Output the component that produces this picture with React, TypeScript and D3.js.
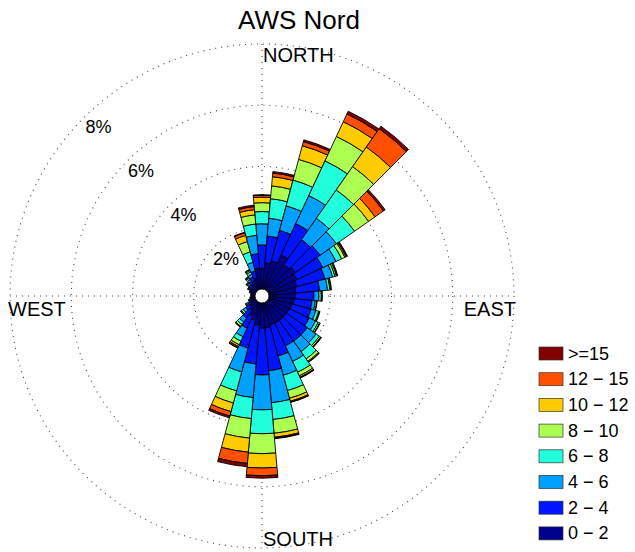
import React from "react";
import * as d3 from "d3";

// direction sectors (degrees from north, clockwise), 10° wide
const directions = [
  0, 10, 20, 30, 40, 50, 60, 70, 80, 90, 100, 110, 120, 130, 140, 150, 160, 170,
  180, 190, 200, 210, 220, 230, 240, 250, 260, 270, 280, 290, 300, 310, 320, 330, 340, 350,
];

// frequency (%) per speed class, one value per direction
const s0_2 = [0.68, 0.86, 0.96, 1.25, 1.02, 1.11, 1.03, 0.95, 0.88, 0.85, 0.82, 0.78, 0.75, 0.75, 0.75, 0.75, 0.75, 0.82, 0.83, 0.73, 0.6, 0.49, 0.36, 0.26, 0.2, 0.15, 0.12, 0.1, 0.1, 0.13, 0.17, 0.22, 0.27, 0.33, 0.39, 0.69];
const s2_4 = [0.76, 0.88, 1.03, 1.13, 1.0, 0.98, 0.93, 0.95, 0.78, 0.62, 0.59, 0.65, 0.72, 0.82, 0.82, 0.82, 1.05, 1.4, 1.52, 1.27, 0.93, 0.44, 0.29, 0.16, 0.08, 0.05, 0.03, 0.02, 0.03, 0.04, 0.06, 0.08, 0.1, 0.13, 0.23, 0.47];
const s4_6 = [0.69, 0.58, 0.83, 1.01, 0.85, 0.65, 0.48, 0.26, 0.26, 0.16, 0.11, 0.16, 0.23, 0.36, 0.42, 0.56, 0.65, 1.05, 1.14, 1.1, 0.81, 0.31, 0.16, 0.1, 0.05, 0.02, 0.01, 0.01, 0.01, 0.02, 0.03, 0.05, 0.07, 0.1, 0.29, 0.6];
const s6_8 = [0.4, 0.64, 0.87, 1.25, 1.13, 0.72, 0.2, 0.08, 0.08, 0.08, 0.05, 0.1, 0.1, 0.13, 0.29, 0.39, 0.52, 0.55, 0.78, 0.69, 0.64, 0.16, 0.1, 0.07, 0.03, 0.01, 0.01, 0, 0, 0.01, 0.02, 0.03, 0.05, 0.08, 0.35, 0.37];
const s8_10 = [0.29, 0.42, 0.7, 0.88, 0.93, 0.56, 0.12, 0.05, 0.03, 0.02, 0.01, 0.03, 0.05, 0.05, 0.1, 0.13, 0.26, 0.45, 0.65, 0.64, 0.41, 0.13, 0.07, 0.03, 0.01, 0, 0, 0, 0, 0, 0.01, 0.02, 0.03, 0.05, 0.35, 0.3];
const s10_12 = [0.18, 0.3, 0.46, 0.53, 0.78, 0.26, 0.04, 0.03, 0.02, 0.01, 0, 0.01, 0.02, 0.02, 0.03, 0.05, 0.1, 0.13, 0.47, 0.46, 0.29, 0.06, 0.02, 0.01, 0, 0, 0, 0, 0, 0, 0, 0.01, 0.02, 0.03, 0.21, 0.17];
const s12_15 = [0.06, 0.12, 0.14, 0.28, 0.73, 0.33, 0.03, 0.01, 0, 0, 0, 0, 0, 0.01, 0.01, 0.02, 0.03, 0.03, 0.25, 0.37, 0.15, 0.04, 0.01, 0, 0, 0, 0, 0, 0, 0, 0, 0, 0.01, 0.01, 0.09, 0.1];
const s15 = [0.02, 0.05, 0.06, 0.1, 0.1, 0.07, 0.02, 0, 0, 0, 0, 0, 0, 0, 0, 0.01, 0.01, 0.02, 0.08, 0.11, 0.06, 0.02, 0, 0, 0, 0, 0, 0, 0, 0, 0, 0, 0, 0, 0.02, 0.05];

const speedLabels = ["0 \u2212 2", "2 \u2212 4", "4 \u2212 6", "6 \u2212 8", "8 \u2212 10", "10 \u2212 12", "12 \u2212 15", ">=15"];
const speedSeries = [s0_2, s2_4, s4_6, s6_8, s8_10, s10_12, s12_15, s15];
const speedColors = ["#00008f", "#0014ff", "#00a0ff", "#22ffdd", "#adff52", "#ffcc00", "#ff5000", "#800000"];

const rings = [2, 4, 6, 8];

const W = 635;
const H = 552;
const cx = 262;
const cy = 296;
const font = "'Liberation Sans', Arial, Helvetica, sans-serif";

const rScale = d3.scaleLinear().domain([0, 8]).range([7, 252]);
const rad = (deg: number) => (deg * Math.PI) / 180;

export default function App() {
  const arc = d3.arc<any>();
  const outer = rScale(8);

  const segments: { d: string; fill: string; key: string }[] = [];
  directions.forEach((dir, i) => {
    let cum = 0;
    speedSeries.forEach((series, b) => {
      const v = series[i];
      if (v <= 0) return;
      const d = arc({
        innerRadius: rScale(cum),
        outerRadius: rScale(cum + v),
        startAngle: rad(dir - 5),
        endAngle: rad(dir + 5),
      }) as string;
      segments.push({ d, fill: speedColors[b], key: `${dir}-${b}` });
      cum += v;
    });
  });

  const labelAngle = rad(-44);

  return (
    <svg width={W} height={H} style={{ position: "absolute", left: 0, top: 0, background: "#fff" }}>
      <text x={299} y={29} textAnchor="middle" fontFamily={font} fontSize={26} fill="#000">
        AWS Nord
      </text>

      {/* grid */}
      <g fill="none" stroke="#444" strokeWidth={1.1} strokeDasharray="1 5">
        {rings.map((t) => (
          <circle key={t} cx={cx} cy={cy} r={rScale(t)} />
        ))}
        <line x1={cx - outer} x2={cx + outer} y1={cy} y2={cy} />
        <line x1={cx} x2={cx} y1={cy - outer} y2={cy + outer} />
      </g>

      {/* bars */}
      <g transform={`translate(${cx},${cy})`} stroke="#000" strokeWidth={0.9} strokeLinejoin="round">
        {segments.map((s) => (
          <path key={s.key} d={s.d} fill={s.fill} />
        ))}
      </g>
      <circle cx={cx} cy={cy} r={rScale(0)} fill="#fff" stroke="#000" strokeWidth={0.9} />

      {/* ring labels */}
      {rings.map((t) => {
        const dist = rScale(t) - 16.5;
        return (
          <text
            key={t}
            x={cx + dist * Math.sin(labelAngle)}
            y={cy - dist * Math.cos(labelAngle)}
            textAnchor="middle"
            dominantBaseline="central"
            fontFamily={font}
            fontSize={18}
          >
            {t}%
          </text>
        );
      })}

      {/* compass labels */}
      <g fontFamily={font} fontSize={20} fill="#000">
        <text x={263} y={62}>NORTH</text>
        <text x={263} y={546}>SOUTH</text>
        <text x={8} y={316}>WEST</text>
        <text x={516} y={316} textAnchor="end">EAST</text>
      </g>

      {/* legend */}
      <g fontFamily={font} fontSize={18}>
        {speedLabels
          .map((lab, b) => ({ lab, b }))
          .reverse()
          .map(({ lab, b }, row) => {
            const y = 353.5 + row * 25.7;
            return (
              <g key={lab}>
                <rect x={539} y={y - 6.5} width={24} height={13} fill={speedColors[b]} stroke="#333" strokeWidth={0.7} />
                <text x={568} y={y} dominantBaseline="central">
                  {lab}
                </text>
              </g>
            );
          })}
      </g>
    </svg>
  );
}
